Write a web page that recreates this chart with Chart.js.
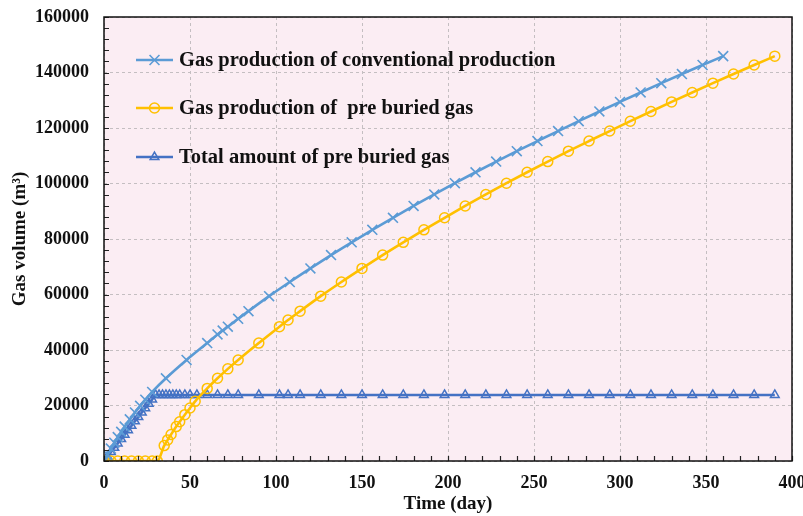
<!DOCTYPE html>
<html>
<head>
<meta charset="utf-8">
<script src="https://cdn.jsdelivr.net/npm/chart.js@4.4.1/dist/chart.umd.min.js"></script>
<style>
  body { margin: 0; background: #fff; }
  #wrap { width: 803px; height: 516px; }
</style>
</head>
<body>
<div id="wrap"><canvas id="gasChart" width="803" height="516"></canvas></div>
<script>
// days and cumulative gas volume (m3)
const convDays = [0, 2, 4, 6, 8, 10, 12, 15, 18, 21, 24, 28,
  36, 48, 60, 66, 69, 72, 78, 84, 96, 108,
  120, 132, 144, 156, 168, 180, 192, 204, 216, 228, 240,
  252, 264, 276, 288, 300, 312, 324, 336, 348, 360];
const convGas = [0, 2300, 4500, 6600, 8600, 10500, 12400, 15000, 17500, 19900, 22100, 24900,
  29800, 36400, 42500, 45600, 47000, 48400, 51250, 54000, 59400, 64500,
  69400, 74200, 78800, 83300, 87650, 91900, 96050, 100100, 104050, 107900, 111650,
  115300, 118900, 122450, 125950, 129400, 132800, 136150, 139450, 142700, 145900];

const buriedDays = [0, 4, 8, 12, 16, 20, 24, 28, 31,
  35, 37, 39, 42, 44, 47, 50, 53, 60, 66, 72, 78, 90, 102, 107, 114,
  126, 138, 150, 162, 174, 186, 198, 210, 222, 234, 246, 258,
  270, 282, 294, 306, 318, 330, 342, 354, 366, 378, 390];
const buriedGas = [0, 0, 0, 0, 0, 0, 0, 0, 0,
  5550, 7600, 9550, 12400, 14150, 16700, 19100, 21500, 26150, 29800, 33200, 36400, 42500, 48400, 50800, 54000,
  59400, 64500, 69400, 74200, 78800, 83300, 87650, 91900, 96050, 100100, 104050, 107900,
  111650, 115300, 118900, 122450, 125950, 129400, 132800, 136150, 139450, 142700, 145900];

const totalDays = [0, 2, 4, 6, 8, 10, 12, 14, 16, 18, 20, 22, 24, 26, 28, 30,
  32, 34, 36, 38, 40, 42, 44, 47, 50, 54, 60, 66, 72, 78, 90, 102, 107, 114,
  126, 138, 150, 162, 174, 186, 198, 210, 222, 234, 246, 258,
  270, 282, 294, 306, 318, 330, 342, 354, 366, 378, 390];
const totalGas = [0, 1600, 3200, 4750, 6350, 7900, 9500, 11100, 12700, 14300, 15850, 17450, 19050, 20650, 22200, 23800,
  23800, 23800, 23800, 23800, 23800, 23800, 23800, 23800, 23800, 23800, 23800, 23800, 23800, 23800, 23800, 23800, 23800, 23800,
  23800, 23800, 23800, 23800, 23800, 23800, 23800, 23800, 23800, 23800, 23800, 23800,
  23800, 23800, 23800, 23800, 23800, 23800, 23800, 23800, 23800, 23800, 23800];

const seriesNames = [
  "Gas production of conventional production",
  "Gas production of  pre buried gas",
  "Total amount of pre buried gas"
];

const xTicks = [0, 400, 50];       // min, max, step
const yTicks = [0, 160000, 20000];

const SERIF = "'Liberation Serif', 'Times New Roman', serif";

function toXY(xs, ys) {
  return xs.map((x, i) => ({ x: x, y: ys[i] }));
}

// pink plot background
const plotBg = {
  id: "plotBg",
  beforeDraw(chart) {
    const a = chart.chartArea;
    const ctx = chart.ctx;
    ctx.save();
    ctx.fillStyle = "#fbedf3";
    ctx.fillRect(a.left, a.top, a.right - a.left, a.bottom - a.top);
    ctx.restore();
  }
};

// black frame plus small inward ticks like the excel chart
const frameTicks = {
  id: "frameTicks",
  afterDraw(chart) {
    const a = chart.chartArea;
    const ctx = chart.ctx;
    const xs = chart.scales.x, ys = chart.scales.y;
    ctx.save();
    ctx.strokeStyle = "#222";
    ctx.lineWidth = 1.2;
    ctx.beginPath();
    for (let d = xTicks[0]; d <= xTicks[1]; d += 10) {
      const px = Math.round(xs.getPixelForValue(d)) + 0.5;
      ctx.moveTo(px, a.bottom);
      ctx.lineTo(px, a.bottom - 5);
    }
    for (let v = yTicks[0]; v <= yTicks[1]; v += 4000) {
      const py = Math.round(ys.getPixelForValue(v)) + 0.5;
      ctx.moveTo(a.left, py);
      ctx.lineTo(a.left + 5, py);
    }
    ctx.stroke();
    ctx.lineWidth = 1.5;
    ctx.strokeStyle = "#111";
    ctx.strokeRect(a.left, a.top, a.right - a.left, a.bottom - a.top);
    ctx.restore();
  }
};

// legend inside the plot: line + marker + bold serif text
const innerLegend = {
  id: "innerLegend",
  afterDraw(chart) {
    const ctx = chart.ctx;
    const rowsY = [60, 108, 157];
    ctx.save();
    chart.data.datasets.forEach((ds, i) => {
      const y = rowsY[i];
      ctx.strokeStyle = ds.borderColor;
      ctx.lineWidth = 2.5;
      ctx.beginPath();
      ctx.moveTo(136, y);
      ctx.lineTo(173, y);
      ctx.stroke();
      ctx.fillStyle = "rgba(0,0,0,0)";
      ctx.strokeStyle = ds.pointBorderColor;
      ctx.lineWidth = ds.pointBorderWidth;
      Chart.helpers.drawPoint(ctx, {
        pointStyle: ds.pointStyle,
        radius: ds.pointRadius,
        borderWidth: ds.pointBorderWidth,
        rotation: 0
      }, 154.5, y);
      ctx.fillStyle = "#111";
      ctx.font = "bold 20.5px " + SERIF;
      ctx.textBaseline = "middle";
      ctx.textAlign = "left";
      ctx.fillText(ds.label, 179, y + 1);
    });
    ctx.restore();
  }
};

new Chart(document.getElementById("gasChart"), {
  type: "line",
  data: {
    datasets: [
      {
        label: seriesNames[0],
        data: toXY(convDays, convGas),
        borderColor: "#5b9bd5",
        borderWidth: 2.6,
        pointStyle: "crossRot",
        pointRadius: 7,
        pointBorderWidth: 1.6,
        pointBorderColor: "#5b9bd5",
        pointBackgroundColor: "rgba(0,0,0,0)",
        cubicInterpolationMode: "monotone"
      },
      {
        label: seriesNames[1],
        data: toXY(buriedDays, buriedGas),
        borderColor: "#ffc000",
        borderWidth: 2.6,
        pointStyle: "circle",
        pointRadius: 5,
        pointBorderWidth: 1.5,
        pointBorderColor: "#ffc000",
        pointBackgroundColor: "rgba(0,0,0,0)",
        cubicInterpolationMode: "monotone"
      },
      {
        label: seriesNames[2],
        data: toXY(totalDays, totalGas),
        borderColor: "#4472c4",
        borderWidth: 2.6,
        pointStyle: "triangle",
        pointRadius: 5,
        pointBorderWidth: 1.5,
        pointBorderColor: "#4472c4",
        pointBackgroundColor: "rgba(0,0,0,0)",
        cubicInterpolationMode: "monotone"
      }
    ]
  },
  options: {
    responsive: false,
    animation: false,
    layout: { padding: { top: 17, right: 11, left: 0, bottom: 0 } },
    plugins: {
      legend: { display: false },
      tooltip: { enabled: false }
    },
    scales: {
      x: {
        type: "linear",
        min: xTicks[0],
        max: xTicks[1],
        ticks: {
          stepSize: xTicks[2],
          padding: 12,
          color: "#111",
          font: { family: SERIF, size: 18, weight: "bold" },
          callback: v => String(v),
          maxRotation: 0
        },
        grid: { color: "#c4bec1", drawTicks: false, lineWidth: 1 },
        border: { display: false, dash: [3, 3] },
        title: {
          display: true,
          text: "Time (day)",
          color: "#111",
          font: { family: SERIF, size: 19, weight: "bold" },
          padding: { top: 0, bottom: 1 }
        },
        afterFit(scale) {
          scale.height = 55;
          scale.paddingLeft = 0;
          scale.paddingRight = 0;
        }
      },
      y: {
        min: yTicks[0],
        max: yTicks[1],
        ticks: {
          stepSize: yTicks[2],
          padding: 15,
          color: "#111",
          font: { family: SERIF, size: 18, weight: "bold" },
          callback: v => String(v)
        },
        grid: { color: "#c4bec1", drawTicks: false, lineWidth: 1 },
        border: { display: false, dash: [3, 3] },
        title: {
          display: true,
          text: "Gas volume (m³)",
          color: "#111",
          font: { family: SERIF, size: 19, weight: "bold" },
          padding: { top: 9, bottom: 0 }
        },
        afterFit(scale) {
          scale.width = 104;
          scale.paddingTop = 0;
          scale.paddingBottom = 0;
        }
      }
    }
  },
  plugins: [plotBg, frameTicks, innerLegend]
});
</script>
</body>
</html>
